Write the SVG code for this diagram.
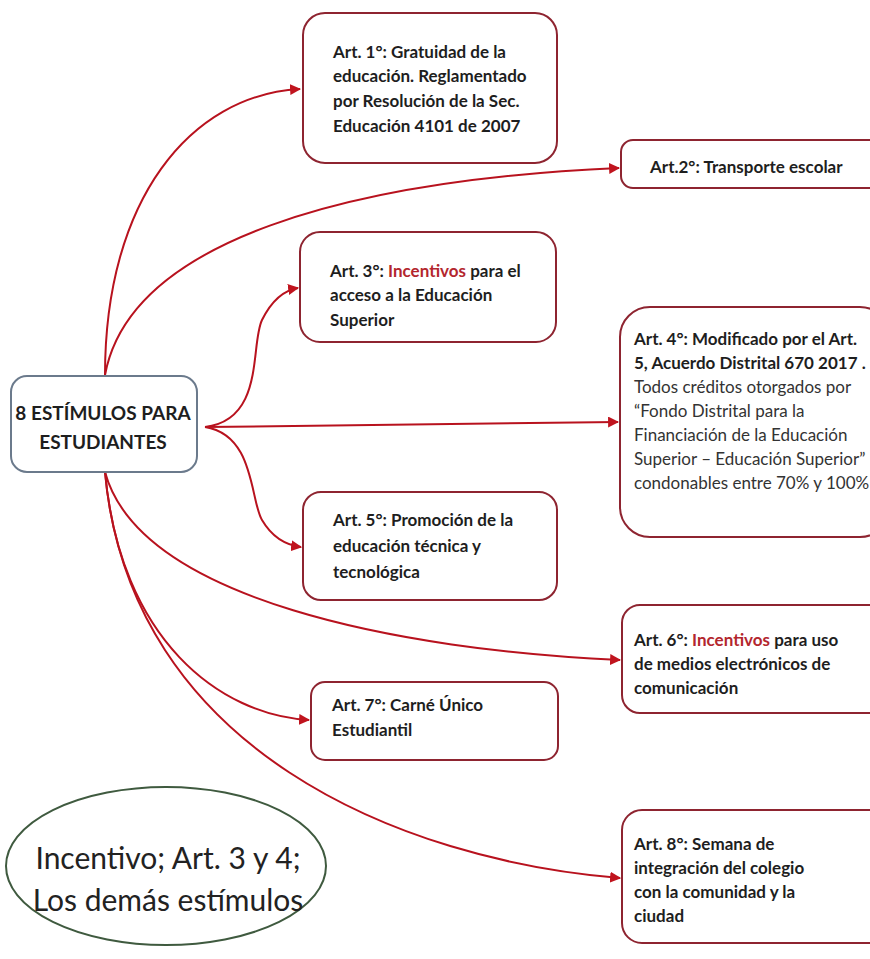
<svg xmlns="http://www.w3.org/2000/svg" width="870" height="959" viewBox="0 0 870 959">
<defs>
<marker id="ah" viewBox="0 0 10 10" refX="9" refY="5" markerWidth="5.5" markerHeight="5.5" orient="auto" markerUnits="strokeWidth">
<path d="M0,0 L10,5 L0,10 z" fill="#C0141E"/>
</marker>
<style>
.box{fill:#fff;stroke:#8E2430;stroke-width:2}
.t{font-family:Lato,"Open Sans","Liberation Sans",sans-serif;font-size:17px;fill:#1e1e1e;font-weight:bold}
.n{font-weight:normal;fill:#333}
.r{fill:#B3262E}
.big{font-size:19px}
.huge{font-size:30px;font-weight:normal;fill:#222}
.c{fill:none;stroke:#B8121E;stroke-width:2;marker-end:url(#ah)}
</style>
</defs>
<rect width="870" height="959" fill="#fff"/>
<g id="connectors">
<path class="c" d="M105,375 C105,200 190,95 300,89"/>
<path class="c" d="M105,375 C130,240 350,180 619,168"/>
<path class="c" d="M205,427 C265,420 250,345 262,320 C272,300 285,290 298,288"/>
<path class="c" d="M205,427 L618,422"/>
<path class="c" d="M205,427 C255,435 250,500 262,520 C272,537 285,545 301,547"/>
<path class="c" d="M105,472 C140,600 400,650 620,660"/>
<path class="c" d="M105,472 C120,640 220,715 309,720"/>
<path class="c" d="M105,472 C130,750 400,860 620,878"/>
</g>
<g id="center">
<rect x="11" y="376" width="186" height="96" rx="16" fill="#fff" stroke="#6B7A8C" stroke-width="2"/>
<text class="t big" x="103" y="420" text-anchor="middle">8 ESTÍMULOS PARA</text>
<text class="t big" x="103" y="449" text-anchor="middle">ESTUDIANTES</text>
</g>
<g id="art1">
<rect class="box" x="303" y="13" width="254" height="150" rx="22"/>
<text class="t" x="333" y="58">Art. 1°: Gratuidad de la</text>
<text class="t" x="333" y="82">educación. Reglamentado</text>
<text class="t" x="333" y="107">por  Resolución de la Sec.</text>
<text class="t" x="333" y="132">Educación 4101 de 2007</text>
</g>
<g id="art2">
<rect class="box" x="621" y="140" width="270" height="48" rx="12"/>
<text class="t" x="650" y="173">Art.2°: Transporte escolar</text>
</g>
<g id="art3">
<rect class="box" x="300" y="232" width="256" height="110" rx="20"/>
<text class="t" x="330" y="277">Art. 3°: <tspan class="r">Incentivos</tspan> para el</text>
<text class="t" x="330" y="301">acceso a la Educación</text>
<text class="t" x="330" y="326">Superior</text>
</g>
<g id="art4">
<rect class="box" x="620" y="307" width="270" height="230" rx="30"/>
<text class="t" x="634" y="345">Art. 4°: Modificado por el Art.</text>
<text class="t" x="634" y="369">5, Acuerdo Distrital 670 2017 .</text>
<text class="t n" x="634" y="393">Todos créditos otorgados por</text>
<text class="t n" x="634" y="417">“Fondo Distrital para la</text>
<text class="t n" x="634" y="441">Financiación de la Educación</text>
<text class="t n" x="634" y="465">Superior – Educación Superior”</text>
<text class="t n" x="634" y="489">condonables entre 70% y 100%</text>
</g>
<g id="art5">
<rect class="box" x="303" y="492" width="254" height="108" rx="18"/>
<text class="t" x="333" y="526">Art. 5°: Promoción de la</text>
<text class="t" x="333" y="552">educación técnica y</text>
<text class="t" x="333" y="578">tecnológica</text>
</g>
<g id="art6">
<rect class="box" x="622" y="605" width="270" height="108" rx="18"/>
<text class="t" x="634" y="646">Art. 6°: <tspan class="r">Incentivos</tspan> para uso</text>
<text class="t" x="634" y="670">de medios electrónicos de</text>
<text class="t" x="634" y="694">comunicación</text>
</g>
<g id="art7">
<rect class="box" x="311" y="682" width="247" height="78" rx="14"/>
<text class="t" x="332" y="711">Art. 7°: Carné Único</text>
<text class="t" x="332" y="736">Estudiantil</text>
</g>
<g id="art8">
<rect class="box" x="622" y="810" width="270" height="133" rx="20"/>
<text class="t" x="634" y="850">Art. 8°: Semana de</text>
<text class="t" x="634" y="874">integración del colegio</text>
<text class="t" x="634" y="898">con la comunidad y la</text>
<text class="t" x="634" y="922">ciudad</text>
</g>
<g id="note">
<ellipse cx="166" cy="866" rx="160" ry="79" fill="#fff" stroke="#3F5A3F" stroke-width="2"/>
<text class="t huge" x="168" y="869" text-anchor="middle">Incentivo; Art. 3 y 4;</text>
<text class="t huge" x="168" y="911" text-anchor="middle">Los demás estímulos</text>
</g>
</svg>
